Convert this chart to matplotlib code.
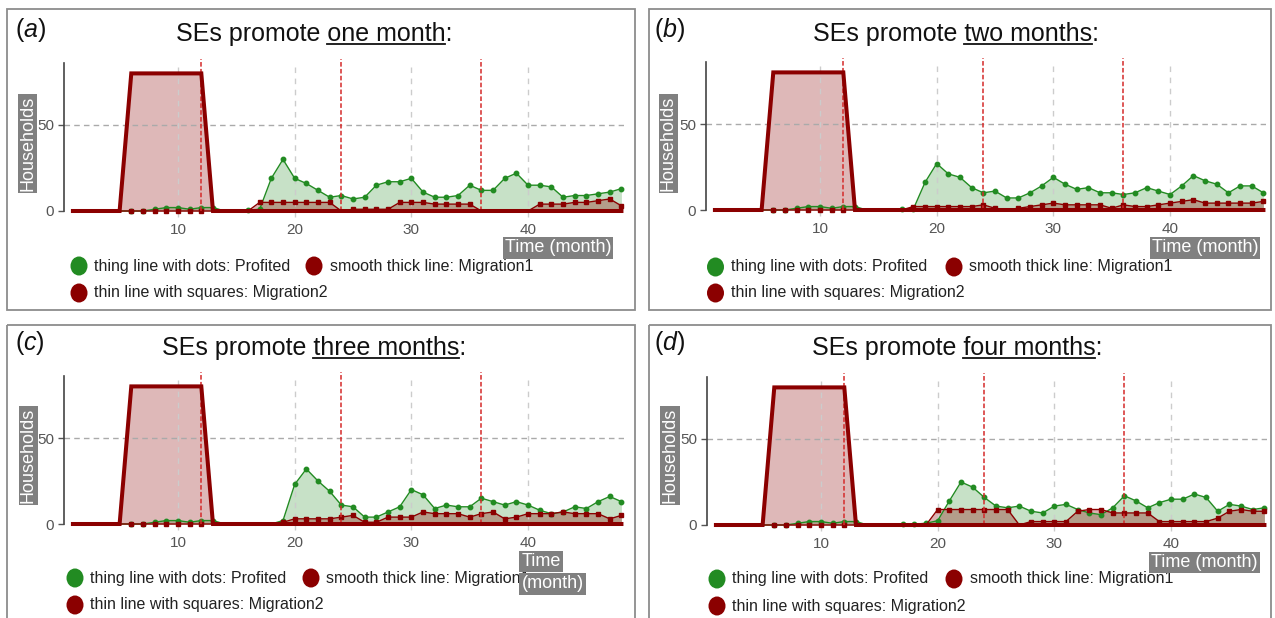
import matplotlib
matplotlib.use("Agg")
import matplotlib.pyplot as plt
from matplotlib.patches import Rectangle, Ellipse

plt.rcParams['font.family'] = ['Liberation Sans', 'DejaVu Sans']
plt.rcParams['mathtext.fontset'] = 'custom'
plt.rcParams['mathtext.rm'] = 'Liberation Sans'
plt.rcParams['mathtext.it'] = 'Liberation Sans:italic'

# === Dados (households por mês) ===
months = list(range(1, 49))

migration1 = [0, 0, 0, 0, 0, 80, 80, 80, 80, 80, 80, 80,
              0, 0, 0, 0, 0, 0, 0, 0, 0, 0, 0, 0,
              0, 0, 0, 0, 0, 0, 0, 0, 0, 0, 0, 0,
              0, 0, 0, 0, 0, 0, 0, 0, 0, 0, 0, 0]

profited_a = [0, 0, 0, 0, 0, 0, 0, 1, 2, 2, 1, 2,
              2, 0, 0, 0.5, 1, 19, 30, 19, 16, 12, 8, 9,
              7, 8, 15, 17, 17, 19, 11, 8, 8, 9, 15, 12,
              12, 19, 22, 15, 15, 14, 8, 9, 9, 10, 11, 13]
migration2_a = [0, 0, 0, 0, 0, 0, 0, 0, 0, 0, 0, 0,
                0, 0, 0, 0, 5, 5, 5, 5, 5, 5, 5, 0,
                1, 1, 1, 1, 5, 5, 5, 4, 4, 4, 4, 0,
                0, 0, 0, 0, 4, 4, 4, 5, 5, 6, 7, 3]

profited_b = [0, 0, 0, 0, 0, 0, 0, 1, 2, 2, 1, 2,
              2, 0, 0, 0, 0.5, 0.5, 16, 27, 21, 19, 13, 10,
              11, 7, 7, 10, 14, 19, 15, 12, 13, 10, 10, 9,
              10, 13, 11, 9, 14, 20, 17, 15, 10, 14, 14, 10]
migration2_b = [0, 0, 0, 0, 0, 0, 0, 0, 0, 0, 0, 0,
                0, 0, 0, 0, 0, 2, 2, 2, 2, 2, 2, 3,
                1, 0, 1, 2, 3, 4, 3, 3, 3, 3, 1, 3,
                2, 2, 3, 4, 5, 6, 4, 4, 4, 4, 4, 5]

profited_c = [0, 0, 0, 0, 0, 0, 0, 1, 2, 2, 1, 2,
              2, 0, 0, 0, 0, 0, 2, 23, 32, 25, 19, 11,
              10, 4, 4, 7, 10, 20, 17, 9, 11, 10, 10, 15,
              13, 11, 13, 11, 8, 6, 7, 10, 9, 13, 16, 13]
migration2_c = [0, 0, 0, 0, 0, 0, 0, 0, 0, 0, 0, 0,
                0, 0, 0, 0, 0, 0, 1, 3, 3, 3, 3, 4,
                5, 1, 1, 4, 4, 4, 7, 6, 6, 6, 4, 6,
                7, 3, 4, 6, 6, 6, 7, 6, 6, 6, 3, 5]

profited_d = [0, 0, 0, 0, 0, 0, 0, 1, 2, 2, 1, 2,
              2, 0, 0, 0, 0.5, 0.5, 1, 2.5, 14, 25, 22, 16,
              11, 10, 11, 8, 7, 11, 12, 9, 7, 6, 10, 17,
              14, 10, 13, 15, 15, 18, 16, 8, 12, 11, 9, 10]
migration2_d = [0, 0, 0, 0, 0, 0, 0, 0, 0, 0, 0, 0,
                0, 0, 0, 0, 0, 0, 0, 9, 9, 9, 9, 9,
                9, 9, 0, 2, 2, 2, 2, 8, 9, 9, 7, 7,
                7, 7, 2, 2, 2, 2, 2, 4, 8, 9, 8, 8]

promo_months = [12, 24, 36]
x_ticks = [10, 20, 30, 40]
y_ticks = [0, 50]

panel_letters = ['a', 'b', 'c', 'd']
durations = ['one month', 'two months', 'three months', 'four months']
legend_labels = ['thing line with dots: Profited',
                 'smooth thick line: Migration1',
                 'thin line with squares: Migration2']

GREEN = '#228b22'
DARKRED = '#8b0000'
W, H = 1275, 618
PX_X = 11.67   # pixels por mês
PX_Y = 1.72    # pixels por household

# posições em pixels de cada painel
layout = [
    dict(frame=(7, 9, 635, 310), ax_left=63.6, y0=211, title=(314, 41.5),
         tag=(15, 37), hh=(27.5, 143.5), time=[(558, 248, 'center', 'Time (month)')],
         leg=[(79, 266, 94), (314, 266, 330), (79, 293, 94)]),
    dict(frame=(649, 9, 1271, 310), ax_left=705.6, y0=210, title=(956, 41),
         tag=(654, 37), hh=(668.5, 143.5), time=[(1205, 248, 'center', 'Time (month)')],
         leg=[(715.5, 267, 730.6), (954, 267, 968.6), (715.5, 293, 730.6)]),
    dict(frame=(7, 325, 635, 640), ax_left=63.6, y0=524, title=(314, 355),
         tag=(15, 350), hh=(28.5, 455.5),
         time=[(521.6, 561.5, 'left', 'Time'), (521.6, 584, 'left', '(month)')],
         leg=[(75, 578, 90), (311, 578, 326.5), (75, 605, 90)]),
    dict(frame=(649, 325, 1271, 640), ax_left=706.6, y0=525, title=(957, 355),
         tag=(654, 350), hh=(670, 455.5), time=[(1204.5, 562.5, 'center', 'Time (month)')],
         leg=[(717, 579, 732), (954, 579, 970), (717, 606, 732)]),
]

series = [(profited_a, migration2_a), (profited_b, migration2_b),
          (profited_c, migration2_c), (profited_d, migration2_d)]

fig = plt.figure(figsize=(W / 100, H / 100), dpi=100)


def visible_points(vals):
    # marcadores em zero ficam escondidos sob a linha grossa
    return [i for i, v in enumerate(vals) if v > 0 or migration1[i] > 0]


# === Gráficos ===
for lay, (profited, migration2) in zip(layout, series):
    ymin, ymax = -1.5, 86
    top = lay['y0'] - ymax * PX_Y
    bottom = lay['y0'] - ymin * PX_Y
    width = 48 * PX_X
    ax = fig.add_axes([lay['ax_left'] / W, 1 - bottom / H, width / W, (bottom - top) / H])
    ax.set_facecolor('none')
    ax.set_xlim(0.2, 48.2)
    ax.set_ylim(ymin, ymax)

    ax.fill_between(months, profited, color=GREEN, alpha=0.25, lw=0, zorder=1)
    ax.fill_between(months, migration2, color=DARKRED, alpha=0.3, lw=0, zorder=1.2)
    ax.fill_between(months, migration1, color=DARKRED, alpha=0.28, lw=0, zorder=1.4)

    ax.axhline(50, color='#aaaaaa', lw=1, ls=(0, (4, 3)), zorder=1.5)
    ax.vlines(x_ticks, -3.5, ymax, colors='#cccccc', lw=1, linestyles=(0, (4, 4)),
              zorder=1.5, clip_on=False)
    ax.vlines(promo_months, 0, 88.5, colors='#d42a2a', lw=1.1, linestyles=(0, (3, 1.5)),
              zorder=3.5, clip_on=False)

    ax.plot(months, profited, color=GREEN, lw=1, marker='o', ms=3.2, zorder=3,
            markevery=visible_points(profited))
    ax.plot(months, migration2, color=DARKRED, lw=1, marker='s', ms=3, zorder=3.2,
            markevery=visible_points(migration2))
    ax.plot(months, migration1, color=DARKRED, lw=2.9, zorder=4, solid_joinstyle='miter')

    for side in ['top', 'right', 'bottom']:
        ax.spines[side].set_visible(False)
    ax.spines['left'].set_color('#444444')
    ax.spines['left'].set_linewidth(1.2)
    ax.spines['left'].set_bounds(0, ymax)
    ax.set_xticks(x_ticks)
    ax.set_yticks(y_ticks)
    ax.tick_params(axis='x', length=0, pad=7, labelsize=11, labelcolor='#555555')
    ax.tick_params(axis='y', length=4, width=1, color='#555555', pad=3,
                   labelsize=11, labelcolor='#555555')

# === Camada de texto/molduras em pixels ===
ov = fig.add_axes([0, 0, 1, 1])
ov.set_xlim(0, W)
ov.set_ylim(H, 0)
ov.axis('off')
renderer = fig.canvas.get_renderer()


def text_width(s, **kw):
    t = ov.text(0, 0, s, **kw)
    bb = t.get_window_extent(renderer)
    t.remove()
    return bb.width


for lay, letter, dur in zip(layout, panel_letters, durations):
    x0, y0, x1, y1 = lay['frame']
    ov.add_patch(Rectangle((x0, y0), x1 - x0, y1 - y0, fill=False,
                           ec='#8c8c8c', lw=1.3, clip_on=False))

    # título com sublinhado na duração
    tx, ty = lay['title']
    full = 'SEs promote ' + dur + ':'
    tkw = dict(fontsize=18, color='#111111')
    ov.text(tx, ty, full, ha='center', va='baseline', **tkw)
    w_full = text_width(full, **tkw)
    left = tx - w_full / 2
    u_end = left + text_width('SEs promote ' + dur, **tkw)
    u_start = u_end - text_width(dur, **tkw)
    ov.plot([u_start, u_end], [ty + 2.5, ty + 2.5], color='#111111', lw=1.3)

    ov.text(lay['tag'][0], lay['tag'][1], '($\\mathit{' + letter + '}$)',
            fontsize=18, color='#111111', ha='left', va='baseline')

    ov.text(lay['hh'][0], lay['hh'][1], 'Households', rotation=90, fontsize=13,
            color='white', ha='center', va='center', zorder=10,
            bbox=dict(boxstyle='square,pad=0.08', fc='#808080', ec='none'))
    for (x, y, ha, s) in lay['time']:
        ov.text(x, y, s, fontsize=13, color='white', ha=ha, va='center', zorder=10,
                bbox=dict(boxstyle='square,pad=0.12', fc='#808080', ec='none'))

    leg_colors = [GREEN, DARKRED, DARKRED]
    for (cx, cy, tx2), lab, col in zip(lay['leg'], legend_labels, leg_colors):
        ov.add_patch(Ellipse((cx, cy), 17, 19, fc=col, ec='none', clip_on=False))
        ov.text(tx2, cy, lab, fontsize=11.5, color='#222222', ha='left', va='center',
                zorder=5)

fig.savefig('out.png', dpi=100)
